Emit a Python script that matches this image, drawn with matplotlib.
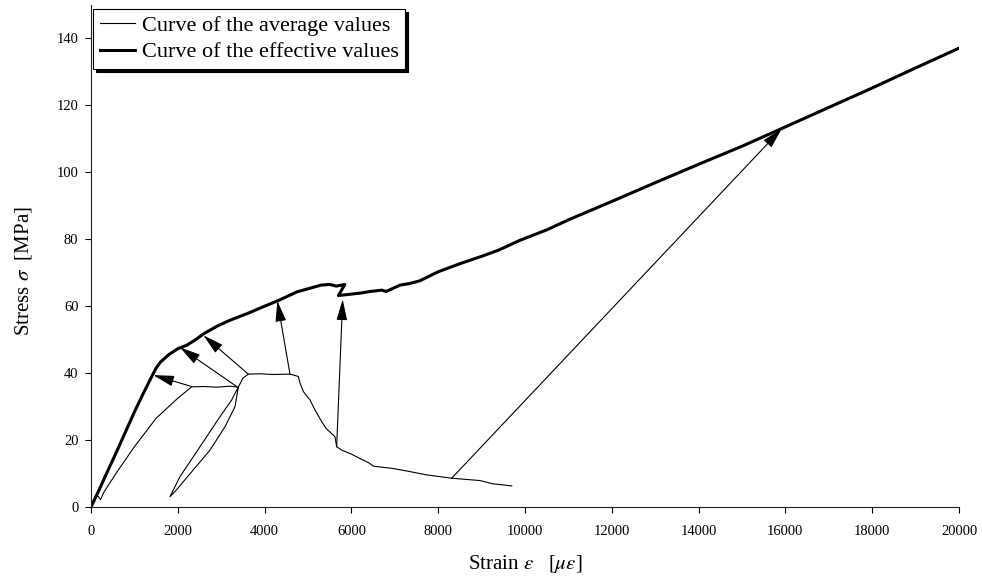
import numpy as np
import matplotlib
matplotlib.use("Agg")
import matplotlib.pyplot as plt

# Curve of the effective values (strain in micro-strain, stress in MPa)
eff_strain = [0, 200, 400, 600, 800, 1000, 1200, 1400, 1500, 1600, 1800, 2000,
              2200, 2400, 2600, 2900, 3200, 3600, 4000, 4300, 4500, 4750, 5000,
              5300, 5500, 5650, 5850, 5700, 5850, 6200, 6430, 6700, 6800, 7120,
              7350, 7580, 8000, 8500, 9000, 9400, 9885, 10500, 11000, 12000,
              13000, 14000, 15000, 15900, 17000, 18000, 19000, 20000]
eff_stress = [0, 5.5, 11.2, 16.8, 22.6, 28.4, 33.8, 39.0, 41.5, 43.3, 45.6, 47.3,
              48.3, 49.9, 51.8, 54.0, 55.8, 57.8, 60.0, 61.6, 62.8, 64.3, 65.2,
              66.3, 66.5, 66.0, 66.5, 63.2, 63.4, 63.9, 64.4, 64.8, 64.4, 66.3,
              66.8, 67.6, 70.3, 72.7, 74.9, 76.8, 79.7, 82.8, 85.8, 91.3,
              96.9, 102.4, 107.8, 113.0, 119.4, 125.2, 131.2, 137.1]

# Curve of the average values, including the unloading/reloading loop
avg_strain = [0, 150, 220, 300, 600, 1000, 1500, 2000, 2320, 2600, 2900, 3200,
              3394, 3318, 3088, 2742, 2357, 1935, 1820, 2051, 2357, 2665, 2972,
              3242, 3394, 3500, 3625, 3900, 4200, 4585, 4700, 4777, 4816, 4893,
              5046, 5161, 5316, 5415, 5622, 5660, 5776, 6000, 6198, 6400, 6505,
              6966, 7300, 7735, 8311, 8963, 9270, 9500, 9694]
avg_stress = [0, 3.5, 2.2, 4.5, 10.5, 18.0, 26.5, 32.5, 35.9, 36.0, 35.8, 36.1,
              35.8, 30.0, 24.0, 17.0, 11.1, 4.6, 3.1, 9.1, 15.0, 21.0, 27.0,
              32.0, 35.8, 38.5, 39.7, 39.8, 39.6, 39.7, 39.3, 39.0, 37.0, 34.5,
              32.0, 29.0, 25.5, 23.5, 21.0, 18.0, 17.0, 15.8, 14.5, 13.2, 12.2,
              11.5, 10.7, 9.6, 8.6, 7.9, 6.9, 6.6, 6.3]

# Arrows from the average curve to the matching point on the effective curve
arrow_from = [(2320, 36.0), (3357, 36.0), (3625, 39.7), (4585, 39.7),
              (5660, 18.0), (8311, 8.6)]
arrow_to = [(1436, 39.4), (2050, 47.7), (2588, 51.3), (4293, 61.6),
            (5799, 62.0), (15914, 113.0)]

x_ticks = np.arange(0, 20001, 2000)
y_ticks = np.arange(0, 141, 20)

plt.rcParams['font.family'] = ['Liberation Serif', 'DejaVu Serif']
plt.rcParams['mathtext.fontset'] = 'stix'

fig = plt.figure(figsize=(9.82, 5.8), dpi=100)
ax = fig.add_axes([91 / 982, 1 - 507 / 580, 868 / 982, 502 / 580])

ax.plot(avg_strain, avg_stress, color='black', lw=0.8,
        label='Curve of the average values')
ax.plot(eff_strain, eff_stress, color='black', lw=2.2, solid_joinstyle='round',
        label='Curve of the effective values')

for start, end in zip(arrow_from, arrow_to):
    ax.annotate('', xy=end, xytext=start,
                arrowprops=dict(arrowstyle='-|>,head_length=0.85,head_width=0.22',
                                mutation_scale=15, color='black', lw=0.8,
                                shrinkA=0, shrinkB=0))

ax.set_xlim(0, 20000)
ax.set_ylim(0, 150)
ax.set_xticks(x_ticks)
ax.set_yticks(y_ticks)
ax.tick_params(axis='both', direction='out', length=4, width=0.8,
               labelsize=10.5, colors='black')
ax.tick_params(axis='x', pad=9)
ax.tick_params(axis='y', pad=5)
for side in ['top', 'right']:
    ax.spines[side].set_visible(False)
for side in ['left', 'bottom']:
    ax.spines[side].set_linewidth(0.8)
    ax.spines[side].set_color('#222222')

ax.set_xlabel(r'Strain $\varepsilon$   [$\mu\varepsilon$]', fontsize=15, labelpad=11)
ax.set_ylabel(r'Stress $\sigma$  [MPa]', fontsize=15)
ax.yaxis.set_label_coords(-0.066, 0.47)

leg = ax.legend(loc='upper left', bbox_to_anchor=(93 / 982, 1 - 9 / 580),
                bbox_transform=fig.transFigure, borderaxespad=0,
                fontsize=16, frameon=True, fancybox=False,
                shadow={'color': 'black', 'alpha': 1},
                handlelength=1.6, handletextpad=0.3, labelspacing=0.25,
                borderpad=0.3)
leg.get_frame().set_edgecolor('black')
leg.get_frame().set_linewidth(0.8)
leg.get_frame().set_alpha(1)

fig.savefig('out.png', dpi=100)
